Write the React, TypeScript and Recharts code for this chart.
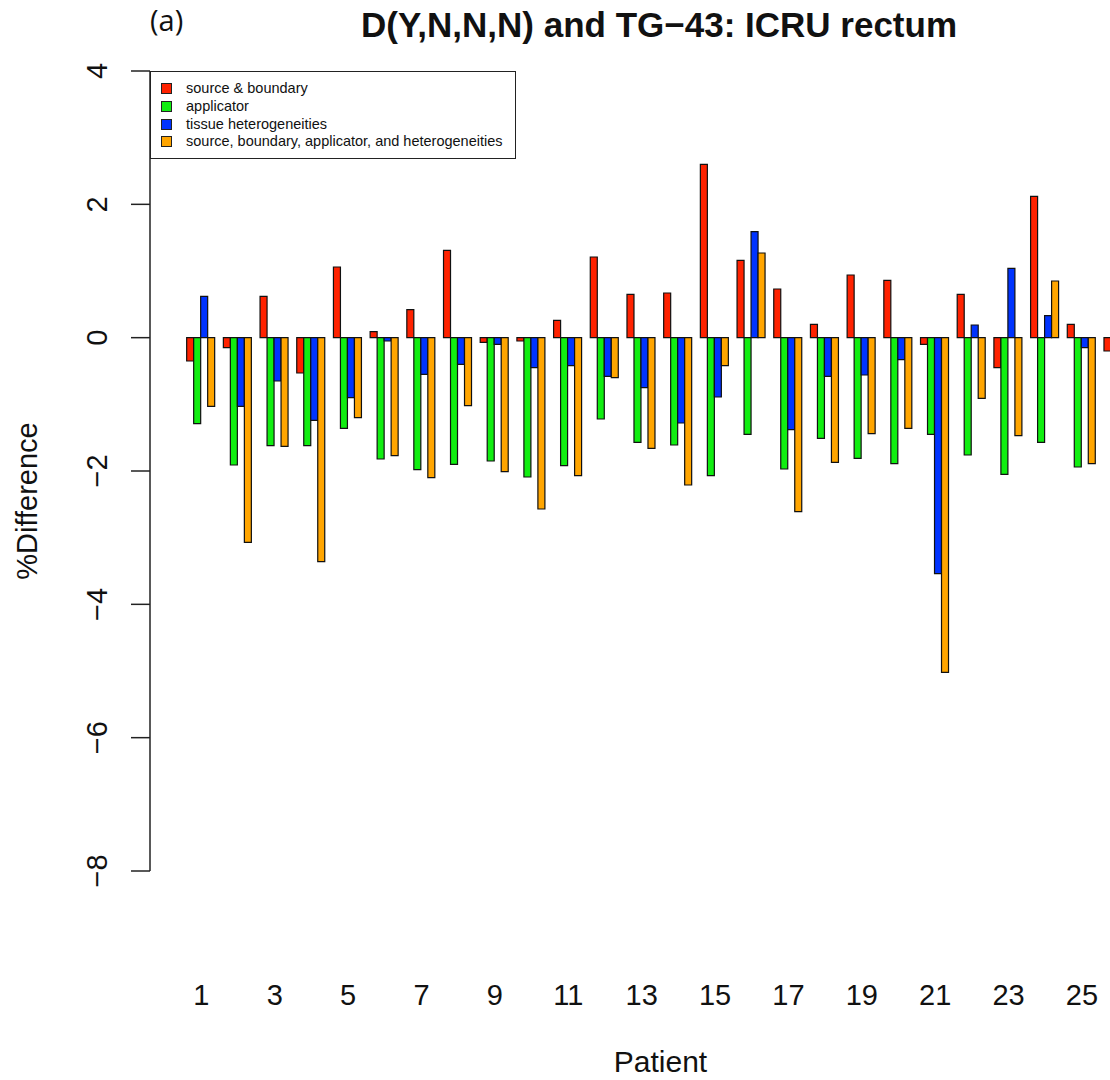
import { BarChart, Bar, XAxis, YAxis, Legend } from 'recharts';

// values, patients 1..26 (26 is cut at the right edge)
const patients = ['1', '2', '3', '4', '5', '6', '7', '8', '9', '10', '11', '12', '13',
  '14', '15', '16', '17', '18', '19', '20', '21', '22', '23', '24', '25', '26'];

const sourceBoundary = [-0.35, -0.15, 0.62, -0.53, 1.06, 0.09, 0.42, 1.31, -0.07, -0.05, 0.26, 1.21, 0.65,
  0.67, 2.6, 1.16, 0.73, 0.2, 0.94, 0.86, -0.1, 0.65, -0.45, 2.12, 0.2, -0.2];
const applicator = [-1.29, -1.91, -1.62, -1.62, -1.36, -1.82, -1.98, -1.9, -1.85, -2.09, -1.92, -1.22, -1.57,
  -1.61, -2.07, -1.45, -1.97, -1.51, -1.81, -1.89, -1.45, -1.76, -2.05, -1.57, -1.94, -1.67];
const heterogeneities = [0.62, -1.03, -0.65, -1.24, -0.9, -0.05, -0.55, -0.4, -0.1, -0.45, -0.42, -0.58, -0.75,
  -1.28, -0.89, 1.59, -1.38, -0.58, -0.56, -0.33, -3.54, 0.19, 1.04, 0.33, -0.15, null];
const combined = [-1.03, -3.07, -1.63, -3.36, -1.2, -1.77, -2.1, -1.02, -2.01, -2.57, -2.07, -0.6, -1.66,
  -2.21, -0.42, 1.27, -2.61, -1.87, -1.44, -1.36, -5.02, -0.91, -1.47, 0.85, -1.89, null];

const yTicks = [-8, -6, -4, -2, 0, 2, 4];

const series = [
  { key: 'sb', name: 'source & boundary', color: '#ff2200' },
  { key: 'app', name: 'applicator', color: '#11ee11' },
  { key: 'het', name: 'tissue heterogeneities', color: '#0033ff' },
  { key: 'all', name: 'source, boundary, applicator, and heterogeneities', color: '#ffa500' },
];

const data = patients.map((p, i) => ({
  patient: p,
  sb: sourceBoundary[i],
  app: applicator[i],
  het: heterogeneities[i],
  all: combined[i],
}));

const FONT = '"Liberation Sans", Arial, sans-serif';

const minus = (v: number) => (v < 0 ? '\u2212' + Math.abs(v) : String(v));

const YTick = ({ x, y, payload }: any) => (
  <text x={x} y={y} transform={`rotate(-90, ${x}, ${y})`} textAnchor="middle"
    fontSize={29} fill="#111" fontFamily={FONT}>
    {minus(payload.value)}
  </text>
);

const XTick = ({ x, y, payload }: any) => (
  <text x={x} y={y} dy={134} textAnchor="middle" fontSize={29} fill="#111" fontFamily={FONT}>
    {payload.value}
  </text>
);

const LegendBox = () => (
  <div style={{
    width: 366, height: 88, boxSizing: 'border-box', border: '1.5px solid #222', background: '#fff',
    padding: '8px 0 0 10px', fontFamily: FONT, fontSize: 14.5, color: '#111',
  }}>
    {series.map(s => (
      <div key={s.key} style={{ display: 'flex', alignItems: 'center', height: 17.7 }}>
        <span style={{ width: 9, height: 9, background: s.color, border: '1px solid #222', display: 'inline-block' }} />
        <span style={{ marginLeft: 14, lineHeight: '17px' }}>{s.name}</span>
      </div>
    ))}
  </div>
);

export default function App() {
  return (
    <div style={{ position: 'absolute', left: 0, top: 0, width: 1110, height: 1080, overflow: 'hidden', background: '#fff' }}>
      <div style={{ position: 'absolute', left: 150, top: 5, fontFamily: '"Open Sans", sans-serif', fontSize: 29, lineHeight: '30px', color: '#111' }}>
        (a)
      </div>
      <div style={{ position: 'absolute', left: 0, top: 7, width: 1318, textAlign: 'center', fontFamily: FONT, fontWeight: 'bold', fontSize: 35, lineHeight: '35px', color: '#111' }}>
        D(Y,N,N,N) and TG{'\u2212'}43: ICRU rectum
      </div>
      <BarChart width={1200} height={1080} data={data}
        margin={{ top: 71, right: 29, left: 0, bottom: 0 }}
        barCategoryGap={3.67} barGap={0}>
        <XAxis dataKey="patient" height={209} interval={1} axisLine={false} tickLine={false}
          tickSize={0} tickMargin={0} padding={{ left: 33, right: 34 }} tick={<XTick />}
          label={({ viewBox }: any) => (
            <text x={viewBox.x + viewBox.width / 2} y={viewBox.y + 201} textAnchor="middle"
              fontSize={30} fill="#111" fontFamily={FONT}>Patient</text>
          )} />
        <YAxis width={150} domain={[-8, 4]} ticks={yTicks} allowDataOverflow
          tickSize={19} tickMargin={24} tick={<YTick />}
          axisLine={{ stroke: '#222', strokeWidth: 1.5 }} tickLine={{ stroke: '#222', strokeWidth: 1.5 }}
          label={({ viewBox }: any) => (
            <text x={37} y={viewBox.y + viewBox.height / 2 + 30}
              transform={`rotate(-90, 37, ${viewBox.y + viewBox.height / 2 + 30})`}
              textAnchor="middle" fontSize={29} fill="#111" fontFamily={FONT}>%Difference</text>
          )} />
        <Legend layout="vertical" align="center" verticalAlign="middle" content={<LegendBox />}
          wrapperStyle={{ left: 150, top: 71, width: 366, height: 88 }} />
        {series.map(s => (
          <Bar key={s.key} dataKey={s.key} name={s.name} fill={s.color}
            stroke="#111" strokeWidth={1.2} isAnimationActive={false} />
        ))}
      </BarChart>
    </div>
  );
}
